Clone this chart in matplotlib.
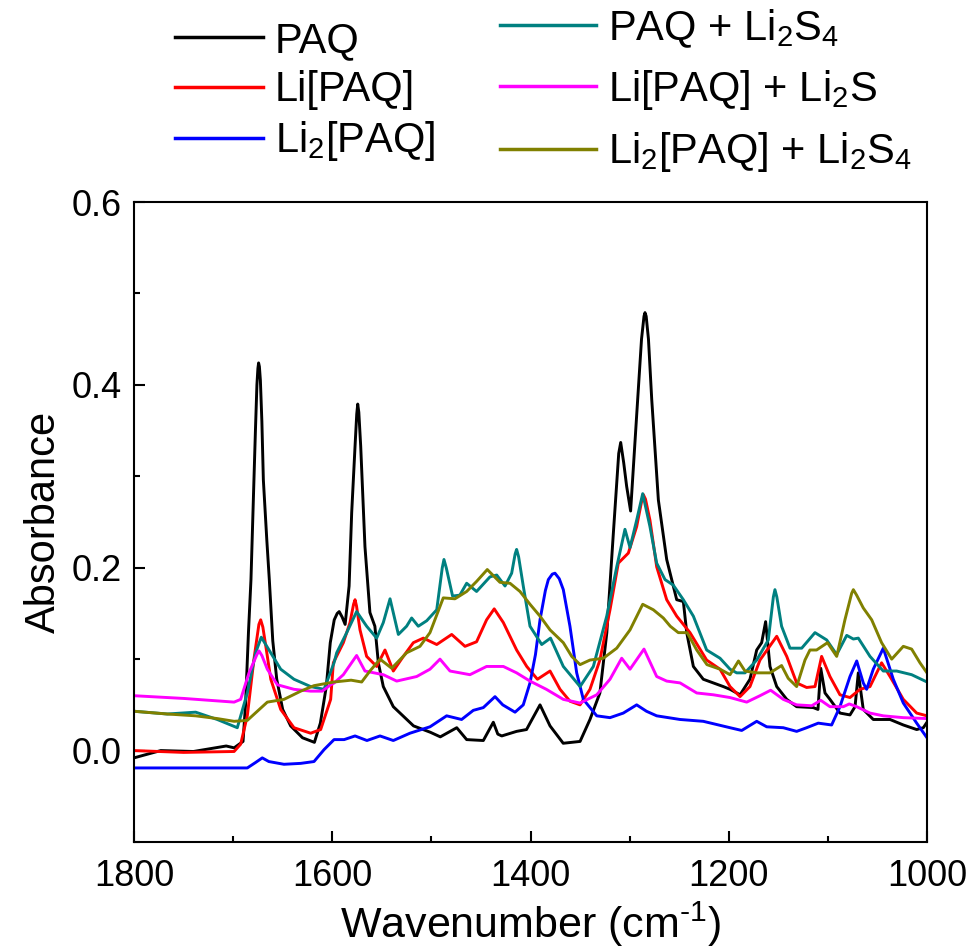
import matplotlib
matplotlib.use("Agg")
import matplotlib.pyplot as plt
from matplotlib.ticker import MultipleLocator

plt.rcParams['font.family'] = ['Liberation Sans', 'DejaVu Sans']
plt.rcParams['mathtext.fontset'] = 'custom'
plt.rcParams['mathtext.rm'] = 'Liberation Sans'
plt.rcParams['mathtext.it'] = 'Liberation Sans'

# PAQ
paq_wn = [1800, 1790, 1773, 1740, 1707, 1699, 1690, 1687.5, 1684.5, 1682, 1679, 1677.5, 1676, 1675,
          1674.3, 1673.5, 1672.5, 1671, 1669.5, 1666, 1663.5, 1660, 1656, 1650, 1642, 1630, 1618,
          1612, 1606, 1602, 1598, 1595, 1593, 1590, 1587, 1583, 1580.4, 1577, 1575.3, 1574.3,
          1573.2, 1571.3, 1567, 1562, 1557, 1553.5, 1548.5, 1538.4, 1518, 1501, 1491, 1474.4,
          1464.4, 1447.6, 1437.5, 1433, 1429, 1414, 1404, 1400, 1390.4, 1380.3, 1367, 1350, 1340,
          1330, 1323, 1316.4, 1311, 1309, 1306, 1303, 1299, 1293, 1288, 1285.5, 1284.5, 1283.3,
          1281, 1277.7, 1271, 1262.6, 1252.5, 1245.8, 1242.4, 1235.7, 1225.7, 1205.5, 1198.7,
          1188.6, 1178.6, 1171.8, 1166.8, 1162.8, 1158.4, 1151.6, 1141.5, 1131.5, 1114.7, 1110,
          1107.2, 1102.9, 1097.9, 1087.8, 1077.7, 1072.6, 1069.3, 1064.3, 1054.2, 1037.3,
          1023.9, 1010.4, 1003.7, 1000]
paq_abs = [-0.008, -0.005, 0.0, -0.001, 0.005, 0.003, 0.010, 0.05, 0.13, 0.187, 0.296, 0.35, 0.40, 0.418,
           0.424, 0.42, 0.405, 0.36, 0.296, 0.23, 0.187, 0.12, 0.078, 0.045, 0.027, 0.014, 0.009,
           0.03, 0.07, 0.118, 0.143, 0.150, 0.152, 0.146, 0.138, 0.18, 0.26, 0.333, 0.368, 0.379,
           0.37, 0.333, 0.223, 0.151, 0.136, 0.096, 0.070, 0.048, 0.027, 0.020, 0.015, 0.025,
           0.012, 0.011, 0.031, 0.018, 0.016, 0.021, 0.023, 0.031, 0.050, 0.027, 0.008, 0.010, 0.034,
           0.063, 0.129, 0.238, 0.325, 0.337, 0.315, 0.289, 0.262, 0.365, 0.45, 0.475, 0.479, 0.475,
           0.45, 0.384, 0.274, 0.209, 0.165, 0.163, 0.129, 0.092, 0.078, 0.070, 0.067,
           0.061, 0.078, 0.110, 0.118, 0.141, 0.092, 0.070, 0.056, 0.048, 0.047, 0.045,
           0.090, 0.063, 0.056, 0.041, 0.039, 0.048, 0.085, 0.045, 0.034, 0.034,
           0.028, 0.023, 0.025, 0.031]

# Li[PAQ]
li_wn = [1800, 1750, 1699, 1692.4, 1685.7, 1679, 1674, 1672.2, 1670, 1667, 1662, 1652, 1638.6,
         1621.8, 1611.7, 1601.6, 1598.9, 1588.8, 1582.1, 1578.5, 1577, 1575.5, 1572, 1565.3,
         1555.2, 1546.8, 1538.4, 1528.3, 1518.2, 1508.1, 1494.6, 1479.5, 1466.1, 1454.4, 1444.3,
         1436.6, 1427.4, 1414, 1403.8, 1393, 1380.3, 1370.2, 1360.2, 1350, 1340, 1330, 1319.8,
         1311.4, 1301.3, 1292.9, 1288, 1286.2, 1284, 1279.5, 1272.7, 1262.6, 1252.5, 1239.1,
         1222.3, 1208.8, 1198.7, 1188.6, 1178.6, 1168.5, 1151.6, 1141.5, 1131.5, 1121.4, 1113,
         1106.3, 1097.9, 1087.8, 1077.7, 1067.6, 1057.5, 1045.8, 1037.3, 1023.9, 1010.4, 1000]
li_abs = [0.0, -0.002, -0.001, 0.007, 0.038, 0.100, 0.138, 0.143, 0.135, 0.114, 0.078, 0.045, 0.025,
          0.019, 0.023, 0.056, 0.096, 0.118, 0.140, 0.160, 0.165, 0.158, 0.132, 0.103,
          0.092, 0.110, 0.087, 0.103, 0.118, 0.123, 0.116, 0.127, 0.114, 0.119, 0.143,
          0.155, 0.140, 0.110, 0.092, 0.078, 0.087, 0.067, 0.054, 0.050, 0.067, 0.099, 0.154,
          0.205, 0.216, 0.245, 0.272, 0.280, 0.275, 0.252, 0.201, 0.165, 0.147, 0.129,
          0.099, 0.089, 0.070, 0.059, 0.070, 0.099, 0.125, 0.103, 0.074, 0.069, 0.070,
          0.103, 0.081, 0.061, 0.058, 0.067, 0.070, 0.096, 0.081, 0.056, 0.041, 0.038]

# Li2[PAQ]
li2_wn = [1800, 1740, 1685.7, 1677.3, 1670.6, 1664, 1648.7, 1631.8, 1618.4, 1608.3, 1598.2, 1588,
          1577, 1565, 1551.8, 1538.4, 1521.6, 1501.4, 1484.6, 1469.5, 1457.7, 1447.6, 1435.8,
          1428, 1415.6, 1407.3, 1400.5, 1395, 1390.4, 1385, 1382, 1378, 1375.3, 1371, 1366.9,
          1360.2, 1353.4, 1346.7, 1333.2, 1319.8, 1306.4, 1292.9, 1283, 1272.7, 1249.1, 1225.7,
          1198.7, 1186.9, 1171.8, 1161.7, 1145, 1131.5, 1121.4, 1109.7, 1096.2, 1087.8, 1077.7,
          1070.9, 1064.3, 1060.9, 1054.2, 1044.1, 1034, 1023.9, 1010.4, 1000]
li2_abs = [-0.019, -0.019, -0.019, -0.013, -0.008, -0.012, -0.015, -0.014, -0.012, 0.001, 0.012, 0.012,
           0.016, 0.011, 0.016, 0.011, 0.019, 0.026, 0.038, 0.034, 0.044, 0.047, 0.059,
           0.050, 0.042, 0.050, 0.074, 0.105, 0.143, 0.175, 0.187, 0.193, 0.194, 0.188, 0.176,
           0.136, 0.085, 0.056, 0.038, 0.036, 0.041, 0.050, 0.043, 0.038, 0.034, 0.032,
           0.025, 0.022, 0.032, 0.026, 0.025, 0.021, 0.025, 0.030, 0.028, 0.048, 0.081,
           0.098, 0.074, 0.067, 0.089, 0.112, 0.078, 0.052, 0.030, 0.014]

# PAQ + Li2S4
paq_s4_wn = [1800, 1766.4, 1737.8, 1716, 1695.8, 1685.7, 1677.3, 1671.6, 1662.1, 1652, 1638.6,
             1621.8, 1608.3, 1598.2, 1595.5, 1585.4, 1575.4, 1565.3, 1555.2, 1548.5, 1541.7,
             1533.3, 1525, 1519.9, 1513.2, 1504.7, 1494.6, 1489, 1487.3, 1485, 1478.6, 1471.3,
             1464.4, 1454.4, 1440.9, 1434.1, 1425.7, 1419, 1415.5, 1414, 1412, 1407.3, 1400.5,
             1388.7, 1379.8, 1366.9, 1350, 1336.6, 1323.1, 1313, 1304.7, 1299.6, 1292.9, 1286.8,
             1279.5, 1272.7, 1264.3, 1256, 1245.8, 1235.7, 1222.3, 1208.8, 1198.7, 1192, 1183.6,
             1171.8, 1160.1, 1155, 1153.4, 1151.5, 1146.7, 1138.2, 1126.4, 1113, 1101.2, 1091.1,
             1081, 1074.3, 1069.3, 1057.5, 1044.1, 1030.6, 1015.5, 1000]
paq_s4_abs = [0.043, 0.040, 0.042, 0.034, 0.025, 0.063, 0.107, 0.124, 0.107, 0.089, 0.078,
              0.070, 0.067, 0.096, 0.107, 0.129, 0.152, 0.136, 0.123, 0.140, 0.166,
              0.127, 0.136, 0.145, 0.136, 0.142, 0.154, 0.200, 0.209, 0.200, 0.169, 0.170,
              0.183, 0.174, 0.190, 0.192, 0.180, 0.194, 0.215, 0.220, 0.212, 0.180, 0.136,
              0.116, 0.123, 0.092, 0.070, 0.092, 0.147, 0.201, 0.242, 0.222, 0.252, 0.281,
              0.245, 0.205, 0.187, 0.181, 0.165, 0.147, 0.110, 0.101, 0.089, 0.085, 0.085,
              0.099, 0.121, 0.168, 0.176, 0.168, 0.136, 0.112, 0.112, 0.129, 0.121, 0.105,
              0.126, 0.122, 0.123, 0.103, 0.087, 0.087, 0.083, 0.075]

# Li[PAQ] + Li2S
li_s_wn = [1800, 1749.6, 1699, 1692.4, 1684, 1676, 1673.9, 1671, 1665.5, 1655.4, 1638.6, 1621.8,
           1610, 1601.6, 1598, 1588.8, 1575.4, 1567, 1548.5, 1535, 1514.8, 1501.4, 1491.3,
           1481.2, 1461.1, 1444.3, 1427.4, 1414, 1400.5, 1384, 1366.9, 1350, 1333.2, 1319.8,
           1308, 1299.6, 1285.5, 1272.7, 1262.6, 1249.1, 1232.3, 1215.5, 1198.7, 1181.9, 1168.5,
           1157.7, 1145, 1131.5, 1116.3, 1107.2, 1097.9, 1084.4, 1078.4, 1070.9, 1057.5, 1044.1,
           1023.9, 1000]
li_s_abs = [0.060, 0.057, 0.053, 0.056, 0.085, 0.105, 0.109, 0.104, 0.089, 0.072, 0.067, 0.065,
            0.065, 0.072, 0.074, 0.083, 0.104, 0.087, 0.083, 0.076, 0.081, 0.089, 0.100,
            0.087, 0.083, 0.092, 0.092, 0.085, 0.076, 0.067, 0.056, 0.052, 0.061, 0.078,
            0.101, 0.089, 0.111, 0.081, 0.076, 0.074, 0.063, 0.061, 0.058, 0.053, 0.060,
            0.066, 0.056, 0.050, 0.049, 0.055, 0.048, 0.048, 0.051, 0.048, 0.041, 0.038,
            0.036, 0.035]

# Li2[PAQ] + Li2S4
li2_s4_wn = [1800, 1766.4, 1737.8, 1716, 1699, 1685.7, 1675.6, 1665.5, 1648.7, 1631.8, 1618.4,
             1598.2, 1581, 1570.3, 1562, 1551.8, 1540, 1524.9, 1511.5, 1501.4, 1488, 1476.2,
             1464.4, 1454.4, 1443.6, 1430.8, 1420.7, 1410.6, 1400.5, 1390.4, 1380.3, 1366.9,
             1358.4, 1350, 1340, 1326.5, 1313, 1299.6, 1286.8, 1276.1, 1266, 1259, 1250.9, 1242,
             1232.3, 1222, 1208.8, 1198.7, 1190.2, 1183.6, 1171.8, 1158.4, 1146.7, 1140, 1131.5,
             1123.1, 1118.1, 1111.4, 1100.4, 1091.1, 1082.8, 1076, 1074.3, 1071, 1064.3, 1055.8,
             1045.8, 1035.6, 1023.9, 1015.5, 1007.1, 1000]
li2_s4_abs = [0.043, 0.040, 0.038, 0.035, 0.032, 0.033, 0.043, 0.053, 0.056, 0.065, 0.071,
              0.075, 0.077, 0.075, 0.087, 0.100, 0.090, 0.107, 0.114, 0.129, 0.167, 0.166,
              0.174, 0.185, 0.198, 0.184, 0.183, 0.174, 0.160, 0.147, 0.132, 0.118,
              0.103, 0.094, 0.099, 0.101, 0.112, 0.132, 0.160, 0.154, 0.145, 0.136, 0.129, 0.129,
              0.110, 0.094, 0.089, 0.083, 0.098, 0.087, 0.085, 0.085, 0.093, 0.079, 0.070,
              0.099, 0.110, 0.110, 0.118, 0.103, 0.143, 0.172, 0.176, 0.170, 0.156, 0.143,
              0.118, 0.100, 0.114, 0.111, 0.096, 0.085]

series = [
    (paq_wn, paq_abs, 'black', 'PAQ'),
    (li_wn, li_abs, '#FF0000', 'Li[PAQ]'),
    (li2_wn, li2_abs, '#0000FF', r'Li$_2$[PAQ]'),
    (paq_s4_wn, paq_s4_abs, '#008080', r'PAQ + Li$_2$S$_4$'),
    (li_s_wn, li_s_abs, '#FF00FF', r'Li[PAQ] + Li$_2$S'),
    (li2_s4_wn, li2_s4_abs, '#808000', r'Li$_2$[PAQ] + Li$_2$S$_4$'),
]

fig = plt.figure(figsize=(9.68, 9.51), dpi=100)
ax = fig.add_axes([134 / 968, 1 - 842 / 951, (927 - 134) / 968, (842 - 202) / 951])

lines = []
for wn, ab, c, lab in series:
    ln, = ax.plot(wn, ab, color=c, lw=2.1, label=lab, solid_joinstyle='round')
    lines.append(ln)

ax.set_xlim(1800, 1000)
ax.set_ylim(-0.1, 0.6)
ax.xaxis.set_major_locator(MultipleLocator(200))
ax.xaxis.set_minor_locator(MultipleLocator(100))
ax.yaxis.set_major_locator(MultipleLocator(0.2))
ax.yaxis.set_minor_locator(MultipleLocator(0.1))
ax.tick_params(which='both', direction='in', top=False, right=False, width=1.5, labelsize=26)
ax.tick_params(axis='x', which='major', pad=12)
ax.tick_params(axis='y', which='major', pad=9)
ax.tick_params(which='major', length=8)
ax.tick_params(which='minor', length=4.5)
for sp in ax.spines.values():
    sp.set_linewidth(1.5)
ax.set_xlabel(r'Wavenumber (cm$^{\text{-}1}$)', fontsize=31, labelpad=4)
ax.set_ylabel('Absorbance', fontsize=30, labelpad=5)

# two legend columns, each with its own row spacing
leg1 = fig.legend(lines[:3], [s[3] for s in series[:3]], loc='upper left',
                  bbox_to_anchor=(175 / 968, 1 - 21 / 951), frameon=False, fontsize=30,
                  handlelength=2.1, handletextpad=0.3, labelspacing=0.22,
                  borderpad=0, borderaxespad=0)
leg2 = fig.legend(lines[3:], [s[3] for s in series[3:]], loc='upper left',
                  bbox_to_anchor=(500 / 968, 1 - 7 / 951), frameon=False, fontsize=30,
                  handlelength=2.3, handletextpad=0.3, labelspacing=0.44,
                  borderpad=0, borderaxespad=0)
for leg in (leg1, leg2):
    for h in leg.get_lines():
        h.set_linewidth(2.5)

fig.savefig('out.png', dpi=100)
